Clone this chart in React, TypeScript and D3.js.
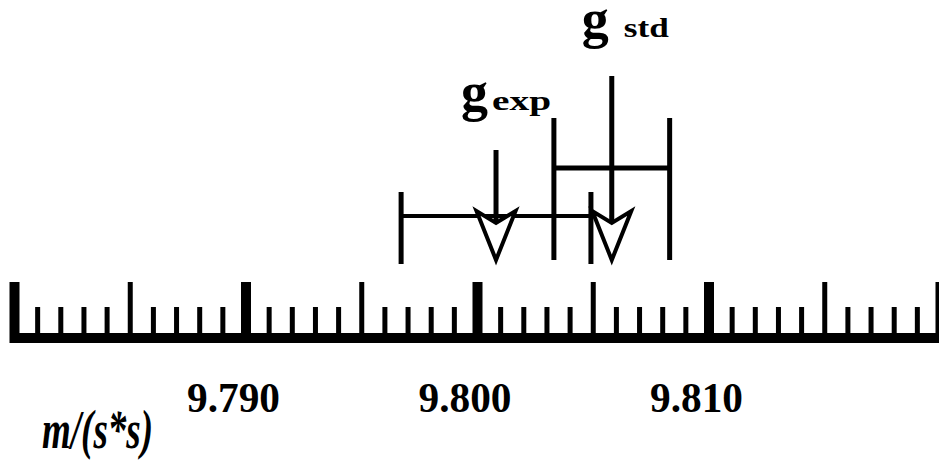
import React from "react";
import * as d3 from "d3";

// values (m/s^2)
const domainMin = 9.78;
const domainMax = 9.82;
const tickLabelValues = [9.79, 9.8, 9.81];
const tickLabels = ["9.790", "9.800", "9.810"];

const seriesNames = ["exp", "std"];
const means = [9.8008, 9.8058];
const errors = [0.0041, 0.0025];

const W = 939, H = 464;

// layout for each series (same order as above)
const rowY = [216, 168];
const capTop = [192, 118];
const capBottom = [264, 260];
const shaftTop = [150, 76];
const barStroke = [4, 5];
const labelBaseline = [110, 37];
const gDx = [-35, -30];
const subDx = [-4, 12];
const subLen = [59, 45];

const tipY = 260;
const barTop = 333, barBottom = 343;
const longTop = 282, shortTop = 307;

const serif = "'Liberation Serif', 'Times New Roman', serif";

const App = () => {
  const x = d3.scaleLinear().domain([domainMin, domainMax]).range([14.5, 940.5]);
  const ticks = x.ticks(40);

  const arrowHead = (cx: number) =>
    d3.line()([
      [cx - 19.5, tipY - 49],
      [cx, tipY],
      [cx + 19.5, tipY - 49],
      [cx, tipY - 37],
    ]) + "Z";

  return (
    <svg width={W} height={H} style={{ position: "absolute", left: 0, top: 0, background: "#fff" }}>
      {/* ruler */}
      <rect x={10} y={barTop} width={W - 10} height={barBottom - barTop} fill="#000" />
      {ticks.map((t, i) => {
        const k = Math.round(t * 1000) % 10;
        const major = k === 0;
        const mid = k === 5;
        const w = major ? 10 : 5;
        const top = major || mid ? longTop : shortTop;
        return <rect key={i} x={x(t) - w / 2} y={top} width={w} height={barBottom - top} fill="#000" />;
      })}
      {tickLabelValues.map((v, i) => (
        <text
          key={i}
          x={x(v) - 12.5}
          y={412}
          textAnchor="middle"
          fontFamily={serif}
          fontWeight="bold"
          fontSize={43}
          textLength={93}
          lengthAdjust="spacingAndGlyphs"
        >
          {tickLabels[i]}
        </text>
      ))}
      <text
        x={42}
        y={448}
        fontFamily={serif}
        fontSize={54}
        fontWeight="bold"
        fontStyle="italic"
        textLength={111}
        lengthAdjust="spacingAndGlyphs"
      >
        m/(s*s)
      </text>

      {/* error bars */}
      {means.map((m, i) => {
        const x0 = x(m - errors[i]);
        const x1 = x(m + errors[i]);
        return (
          <g key={"e" + i} stroke="#000" fill="none">
            <line x1={x0} x2={x1} y1={rowY[i]} y2={rowY[i]} strokeWidth={barStroke[i]} />
            <line x1={x0} x2={x0} y1={capTop[i]} y2={capBottom[i]} strokeWidth={5} />
            <line x1={x1} x2={x1} y1={capTop[i]} y2={capBottom[i]} strokeWidth={5} />
          </g>
        );
      })}

      {/* arrows and labels */}
      {means.map((m, i) => {
        const cx = x(m);
        return (
          <g key={"a" + i}>
            <line x1={cx} x2={cx} y1={shaftTop[i]} y2={tipY - 30} stroke="#000" strokeWidth={5} />
            <path d={arrowHead(cx)} fill="#fff" stroke="#000" strokeWidth={4} strokeLinejoin="miter" />
            <line x1={cx} x2={cx} y1={tipY - 45} y2={tipY - 37} stroke="#000" strokeWidth={4} />
            <text x={cx + gDx[i]} y={labelBaseline[i]} fontFamily={serif} fontWeight="bold" fontSize={54}>
              g
            </text>
            <text
              x={cx + subDx[i]}
              y={labelBaseline[i]}
              fontFamily={serif}
              fontWeight="bold"
              fontSize={28}
              textLength={subLen[i]}
              lengthAdjust="spacingAndGlyphs"
            >
              {seriesNames[i]}
            </text>
          </g>
        );
      })}
    </svg>
  );
};

export default App;
